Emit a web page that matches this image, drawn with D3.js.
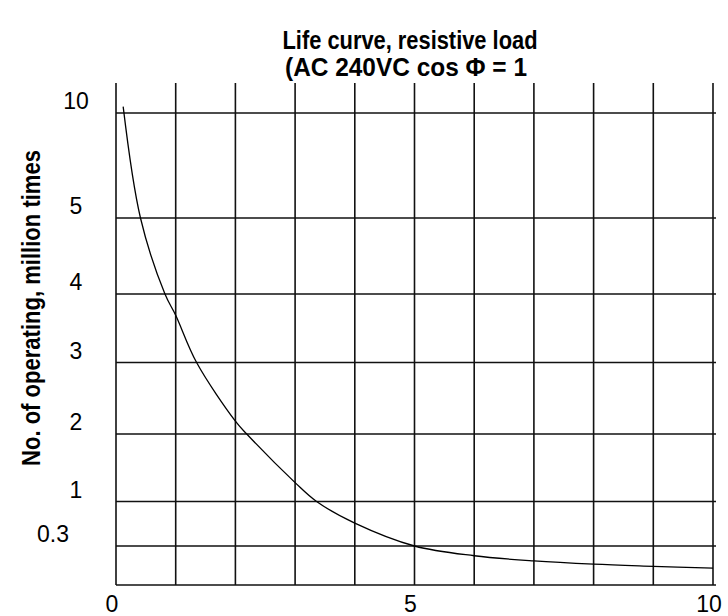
<!DOCTYPE html>
<html>
<head>
<meta charset="utf-8">
<script src="https://cdn.jsdelivr.net/npm/d3@7.9.0/dist/d3.min.js"></script>
<style>
  html, body { margin: 0; padding: 0; background: #fff; }
  svg { display: block; }
  .title, .ylabel { font-family: "Liberation Sans Narrow", "Arial Narrow", "Liberation Sans", Arial, sans-serif; font-weight: bold; font-size: 25px; fill: #000; }
  .tick-label { font-family: "Liberation Sans", Arial, sans-serif; font-size: 23px; fill: #000; }
  .grid line { stroke: #111; stroke-width: 1.6; }
  .curve { fill: none; stroke: #000; stroke-width: 1.3; }
</style>
</head>
<body>
<div id="chart"></div>
<script>
const width = 728;
const height = 616;

const titleLines = ['Life curve, resistive load', '(AC 240VC cos \u03A6 = 1'];
const yLabel = 'No. of operating, million times';

// axis ticks
const xTickValues = [0, 5, 10];
const xGridValues = [0, 1, 2, 3, 4, 5, 6, 7, 8, 9, 10];
const yTickValues = [0.3, 1, 2, 3, 4, 5, 10];
const yTickLabels = ['0.3', '1', '2', '3', '4', '5', '10'];

// life curve
const current = [0.12, 0.41, 0.82, 1, 1.35, 2, 2.19, 3, 3.36, 4, 5, 6, 7, 8, 9, 10];
const life = [10.3, 5, 4, 3.69, 3, 2.18, 2, 1.28, 1, 0.66, 0.3, 0.225, 0.185, 0.16, 0.144, 0.13];

const svg = d3.select('#chart').append('svg')
  .attr('width', width)
  .attr('height', height);

const x = d3.scaleLinear().domain([0, 10]).range([116, 713]);

// the printed scale is not uniform, so map each grid value to its own row
const y = d3.scaleLinear()
  .domain([0, 0.3, 1, 2, 3, 4, 5, 10])
  .range([585, 546, 501.5, 434, 362.5, 294, 218, 113]);

const gridTop = y(10) - 30;
const gridRight = x(10) + 3;

const grid = svg.append('g').attr('class', 'grid');

grid.selectAll('line.v')
  .data(xGridValues)
  .enter().append('line')
  .attr('class', 'v')
  .attr('x1', d => x(d)).attr('x2', d => x(d))
  .attr('y1', gridTop).attr('y2', y(0));

grid.selectAll('line.h')
  .data([0].concat(yTickValues))
  .enter().append('line')
  .attr('class', 'h')
  .attr('x1', x(0)).attr('x2', gridRight)
  .attr('y1', d => y(d)).attr('y2', d => y(d));

// tick labels
svg.append('g').selectAll('text')
  .data(yTickValues)
  .enter().append('text')
  .attr('class', 'tick-label')
  .attr('text-anchor', 'middle')
  .attr('x', d => d < 1 ? 53 : 76)
  .attr('y', d => y(d) - 4)
  .text((d, i) => yTickLabels[i]);

svg.append('g').selectAll('text')
  .data(xTickValues)
  .enter().append('text')
  .attr('class', 'tick-label')
  .attr('text-anchor', 'middle')
  .attr('x', d => x(d) - 4)
  .attr('y', 612)
  .text(d => d);

// curve
const points = current.map((c, i) => [c, life[i]]);
const line = d3.line()
  .x(d => x(d[0]))
  .y(d => y(d[1]))
  .curve(d3.curveCatmullRom.alpha(0.5));

svg.append('path')
  .datum(points)
  .attr('class', 'curve')
  .attr('d', line);

// title, squeezed to look like a narrow face
svg.append('g').selectAll('text')
  .data(titleLines)
  .enter().append('text')
  .attr('class', 'title')
  .attr('text-anchor', 'middle')
  .attr('x', (d, i) => i ? 406 : 410)
  .attr('y', (d, i) => 49 + i * 27)
  .attr('textLength', (d, i) => i ? 242 : 255)
  .attr('lengthAdjust', 'spacingAndGlyphs')
  .text(d => d);

svg.append('text')
  .attr('class', 'ylabel')
  .attr('text-anchor', 'middle')
  .attr('transform', 'translate(40,308) rotate(-90)')
  .attr('textLength', 316)
  .attr('lengthAdjust', 'spacingAndGlyphs')
  .text(yLabel);
</script>
</body>
</html>
